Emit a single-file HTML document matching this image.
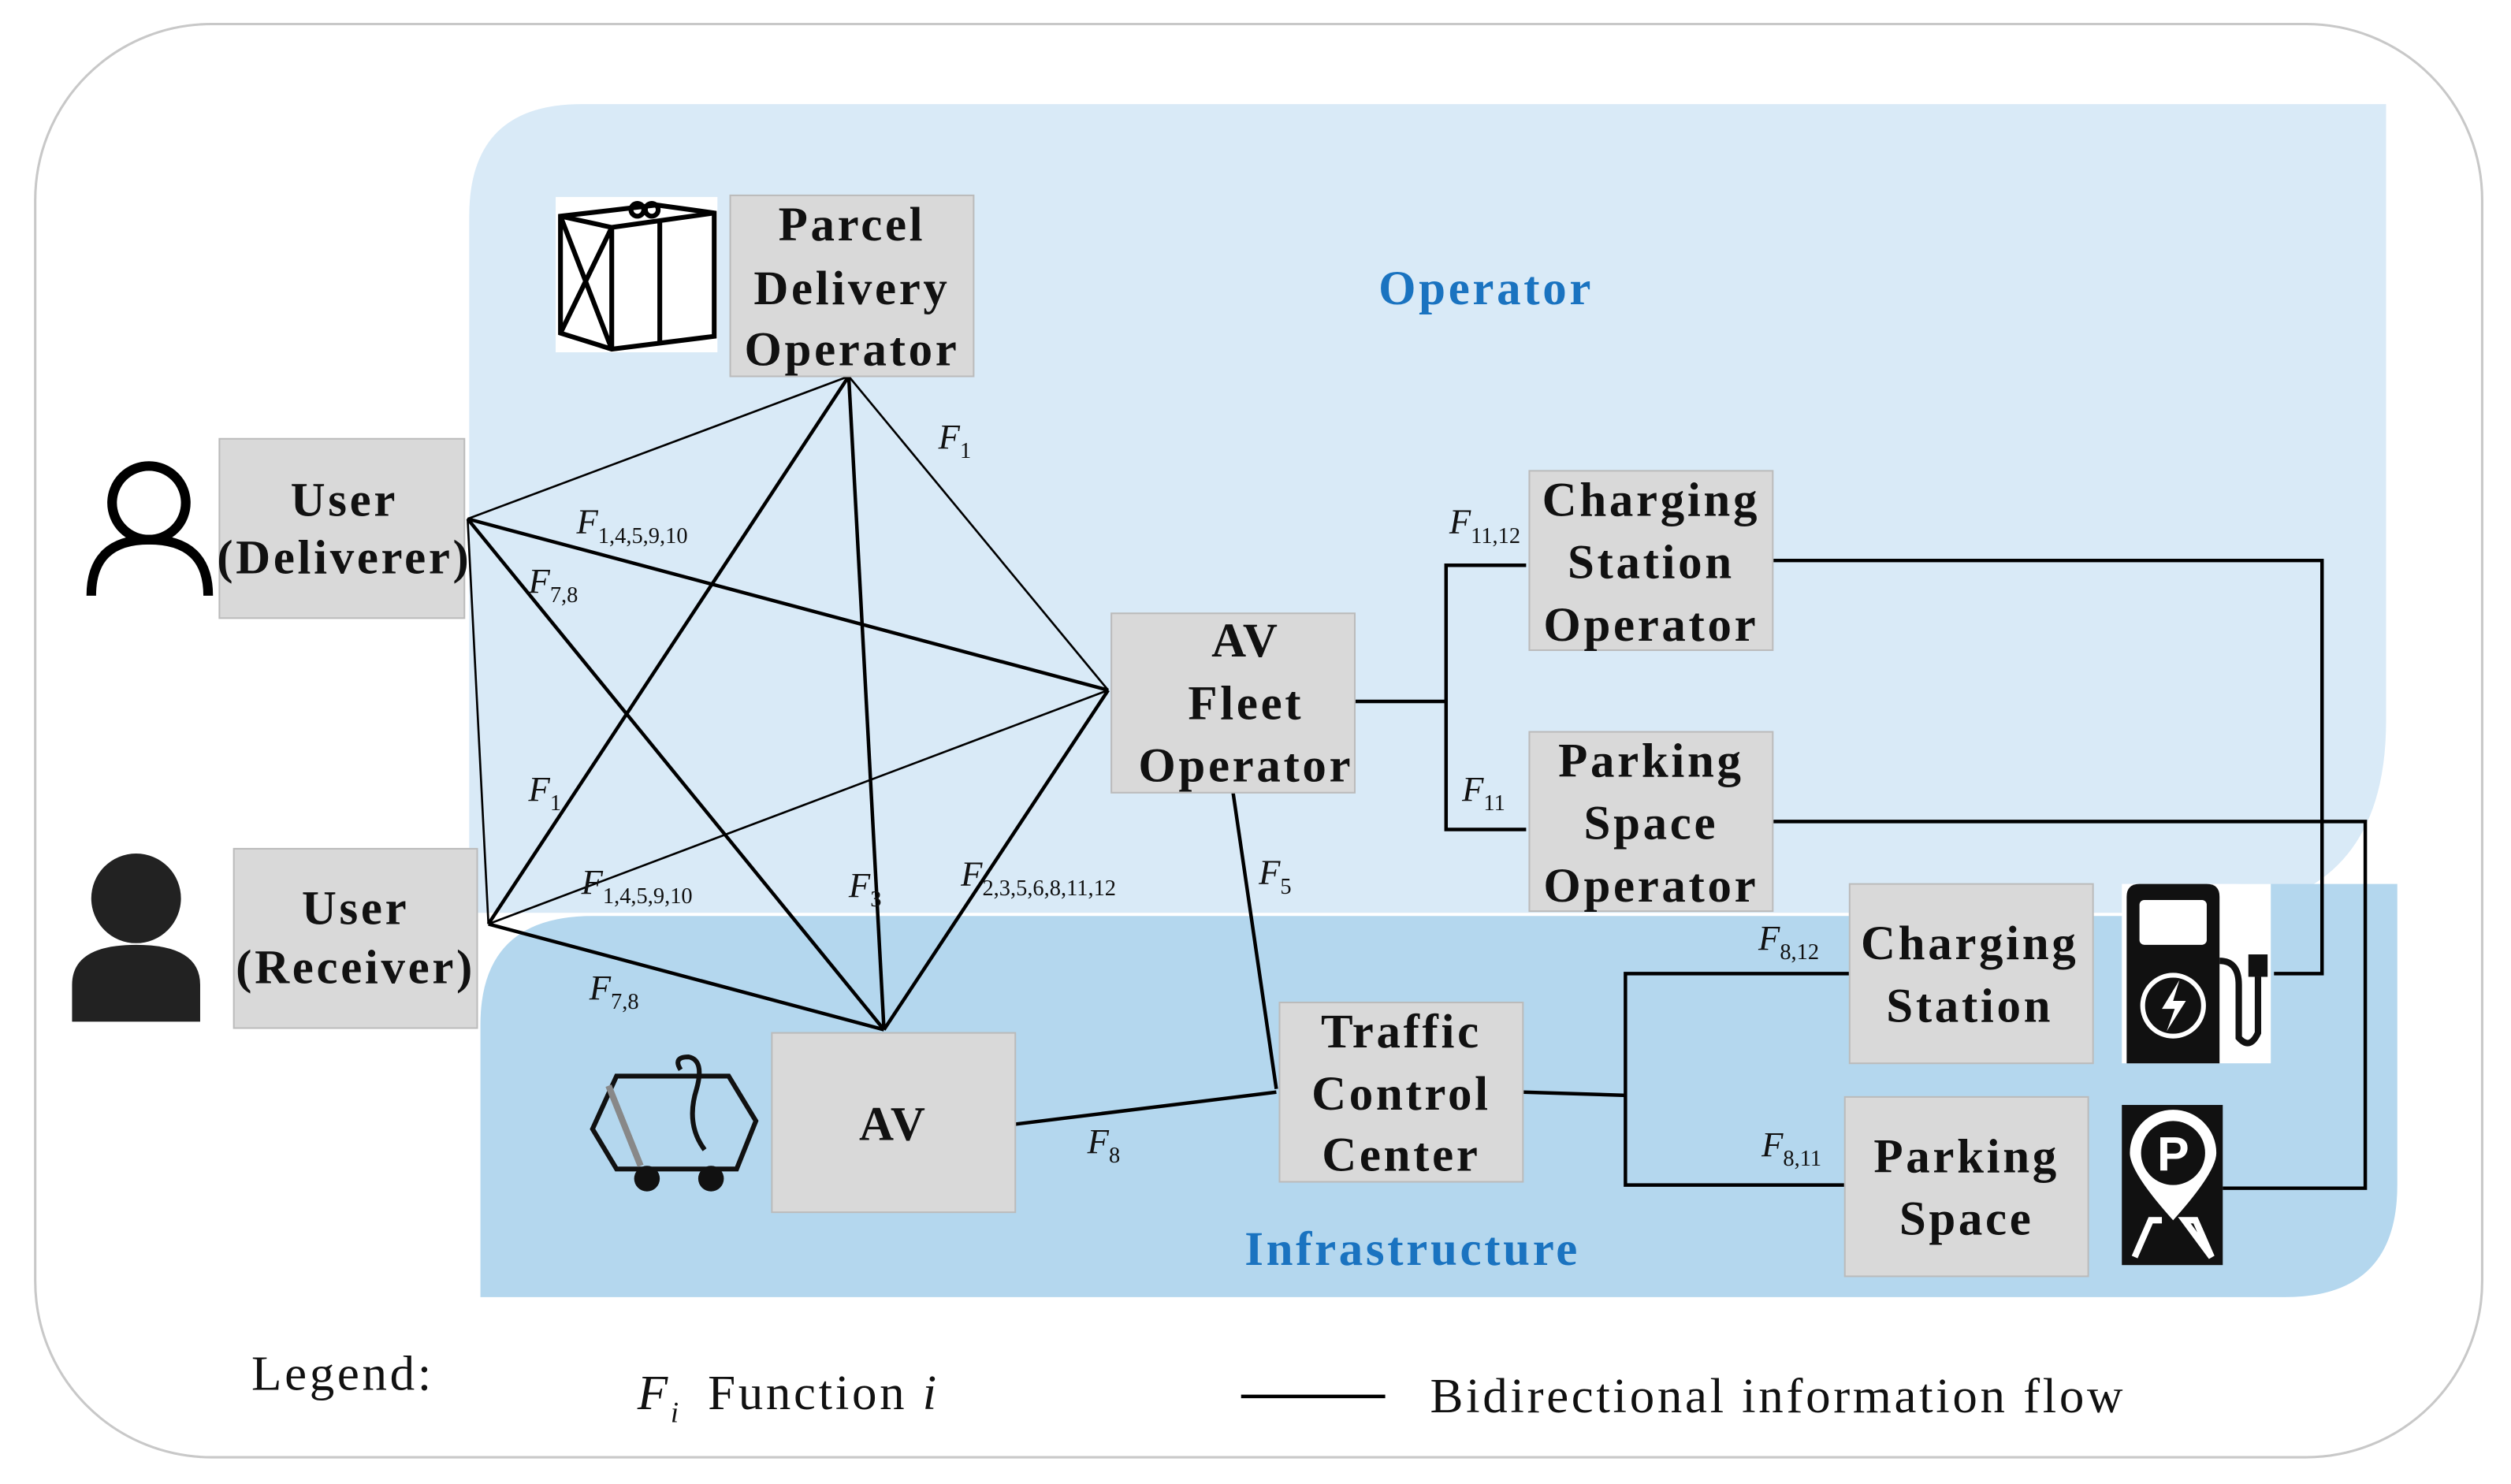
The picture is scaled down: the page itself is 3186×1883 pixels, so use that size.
<!DOCTYPE html>
<html><head><meta charset="utf-8"><style>
html,body{margin:0;padding:0;background:#fff}
svg{display:block}
.b{font-family:"Liberation Serif",serif;font-weight:bold;font-size:30px;fill:#111;text-anchor:middle;letter-spacing:1.8px}
.f{font-family:"Liberation Serif",serif;font-style:italic;font-size:22px;fill:#111}
.s{font-size:14px;font-style:normal}
.l{font-family:"Liberation Serif",serif;font-size:31px;fill:#111;letter-spacing:1.8px}
</style></head><body>
<svg width="3186" height="1883" viewBox="0 0 1568 926.7" xmlns="http://www.w3.org/2000/svg">
<rect x="22" y="15" width="1528" height="895" rx="110" fill="#fff" stroke="#c8c8c8" stroke-width="1.5"/>
<path d="M363 65 H1490 V450 Q1490 570 1370 570 H293 V135 Q293 65 363 65 Z" fill="#d9eaf7"/>
<path d="M300 640 Q300 572 370 572 H1360 Q1380 552 1400 552 H1497 V740 Q1497 810 1427 810 H300 Z" fill="#b4d7ee"/>
<g stroke="#000" fill="none">
<g stroke-width="1.3">
<line x1="292" y1="324" x2="530" y2="235"/>
<line x1="292" y1="324" x2="305" y2="577"/>
<line x1="530" y1="235" x2="692" y2="431"/>
<line x1="305" y1="577" x2="692" y2="431"/>
</g>
<g stroke-width="2.2">
<line x1="292" y1="324" x2="692" y2="431"/>
<line x1="292" y1="324" x2="552" y2="643"/>
<line x1="305" y1="577" x2="530" y2="235"/>
<line x1="305" y1="577" x2="552" y2="643"/>
<line x1="530" y1="235" x2="552" y2="643"/>
<line x1="692" y1="431" x2="552" y2="643"/>
<line x1="770" y1="495" x2="797" y2="680"/>
<polyline points="634,702 797,682"/>
<polyline points="846,438 903,438"/>
<polyline points="953,353 903,353 903,518 953,518"/>
<polyline points="1107,350 1450,350 1450,608 1420,608"/>
<polyline points="1107,513 1477,513 1477,742 1388,742"/>
<polyline points="951,682 1015,684"/>
<polyline points="1155,608 1015,608 1015,740 1152,740"/>
<line x1="775" y1="872" x2="865" y2="872"/>
</g>
</g>
<g fill="#d9d9d9" stroke="#bbb" stroke-width="1">
<rect x="456" y="122" width="152" height="113"/>
<rect x="137" y="274" width="153" height="112"/>
<rect x="146" y="530" width="152" height="112"/>
<rect x="694" y="383" width="152" height="112"/>
<rect x="955" y="294" width="152" height="112"/>
<rect x="955" y="457" width="152" height="112"/>
<rect x="799" y="626" width="152" height="112"/>
<rect x="482" y="645" width="152" height="112"/>
<rect x="1155" y="552" width="152" height="112"/>
<rect x="1152" y="685" width="152" height="112"/>
</g>
<text class="b"><tspan x="532" y="150">Parcel</tspan><tspan x="532" y="190">Delivery</tspan><tspan x="532" y="228">Operator</tspan></text>
<text class="b"><tspan x="215" y="322">User</tspan><tspan x="215" y="358">(Deliverer)</tspan></text>
<text class="b"><tspan x="222" y="577">User</tspan><tspan x="222" y="614">(Receiver)</tspan></text>
<text class="b"><tspan x="778" y="410">AV</tspan><tspan x="778" y="449">Fleet</tspan><tspan x="778" y="488">Operator</tspan></text>
<text class="b"><tspan x="1031" y="322">Charging</tspan><tspan x="1031" y="361">Station</tspan><tspan x="1031" y="400">Operator</tspan></text>
<text class="b"><tspan x="1031" y="485">Parking</tspan><tspan x="1031" y="524">Space</tspan><tspan x="1031" y="563">Operator</tspan></text>
<text class="b"><tspan x="875" y="654">Traffic</tspan><tspan x="875" y="693">Control</tspan><tspan x="875" y="731">Center</tspan></text>
<text class="b" x="558" y="712">AV</text>
<text class="b"><tspan x="1230" y="599">Charging</tspan><tspan x="1230" y="638">Station</tspan></text>
<text class="b"><tspan x="1228" y="732">Parking</tspan><tspan x="1228" y="771">Space</tspan></text>
<text class="b" x="928" y="190" style="fill:#1a73c0">Operator</text>
<text class="b" x="882" y="790" style="fill:#1a73c0">Infrastructure</text>
<text class="f" x="586" y="280">F<tspan class="s" dy="6">1</tspan></text>
<text class="f" x="360" y="333">F<tspan class="s" dy="6">1,4,5,9,10</tspan></text>
<text class="f" x="330" y="370">F<tspan class="s" dy="6">7,8</tspan></text>
<text class="f" x="330" y="500">F<tspan class="s" dy="6">1</tspan></text>
<text class="f" x="363" y="558">F<tspan class="s" dy="6">1,4,5,9,10</tspan></text>
<text class="f" x="368" y="624">F<tspan class="s" dy="6">7,8</tspan></text>
<text class="f" x="530" y="560">F<tspan class="s" dy="6">3</tspan></text>
<text class="f" x="600" y="553">F<tspan class="s" dy="6">2,3,5,6,8,11,12</tspan></text>
<text class="f" x="786" y="552">F<tspan class="s" dy="6">5</tspan></text>
<text class="f" x="679" y="720">F<tspan class="s" dy="6">8</tspan></text>
<text class="f" x="905" y="333">F<tspan class="s" dy="6">11,12</tspan></text>
<text class="f" x="913" y="500">F<tspan class="s" dy="6">11</tspan></text>
<text class="f" x="1098" y="593">F<tspan class="s" dy="6">8,12</tspan></text>
<text class="f" x="1100" y="722">F<tspan class="s" dy="6">8,11</tspan></text>
<text class="l" x="157" y="868">Legend:</text>
<text class="l" x="398" y="880" style="font-style:italic">F<tspan class="s" dy="8" style="font-size:18px;font-style:italic">i</tspan></text>
<text class="l" x="442" y="880">Function <tspan style="font-style:italic">i</tspan></text>
<text class="l" x="893" y="882">Bidirectional information flow</text>
<!-- parcel icon -->
<rect x="347" y="123" width="101" height="97" fill="#fff"/>
<g stroke="#000" stroke-width="3" fill="none">
<path d="M350 135 L410 128 L446 133 L446 210 L382 218 L350 208 Z"/>
<path d="M350 135 L382 142 L446 133 M382 142 L382 218 M350 135 L382 218 M382 142 L350 208 M412 138 L412 214"/>
<circle cx="398" cy="131" r="4"/><circle cx="407" cy="131" r="4"/>
</g>
<!-- person outline -->
<g stroke="#000" stroke-width="6" fill="none">
<circle cx="93" cy="314" r="23"/>
<path d="M57 372 Q57 337 93 337 Q130 337 130 372"/>
</g>
<!-- person filled -->
<circle cx="85" cy="561" r="28" fill="#222"/>
<path d="M45 638 L45 615 Q45 590 85 590 Q125 590 125 615 L125 638 Z" fill="#222"/>
<!-- AV icon -->
<g stroke="#111" stroke-width="3" fill="none">
<path d="M385 672 L455 672 L472 700 L460 730 L385 730 L370 705 Z"/>
<path d="M425 668 Q420 660 430 660 Q440 662 435 680 Q428 702 440 718"/>
</g>
<line x1="380" y1="678" x2="400" y2="728" stroke="#888" stroke-width="4"/>
<circle cx="404" cy="736" r="8" fill="#111"/><circle cx="444" cy="736" r="8" fill="#111"/>
<!-- charging icon -->
<rect x="1325" y="552" width="93" height="112" fill="#fff"/>
<path d="M1328 560 Q1328 552 1336 552 L1378 552 Q1386 552 1386 560 L1386 664 L1328 664 Z" fill="#111"/>
<rect x="1336" y="562" width="42" height="28" rx="3" fill="#fff"/>
<circle cx="1357" cy="628" r="19" fill="none" stroke="#fff" stroke-width="3"/>
<path d="M1361 612 L1350 630 L1358 630 L1353 644 L1365 625 L1357 625 Z" fill="#fff"/>
<path d="M1386 600 Q1398 600 1398 615 L1398 648 Q1405 656 1410 645 L1410 610" stroke="#111" stroke-width="4" fill="none"/>
<rect x="1404" y="596" width="12" height="14" fill="#111"/>
<!-- parking icon -->
<rect x="1325" y="690" width="63" height="100" fill="#111"/>
<path d="M1357 762 Q1330 732 1330 720 A27 27 0 1 1 1384 720 Q1384 732 1357 762 Z" fill="#fff"/>
<circle cx="1357" cy="720" r="20" fill="#111"/>
<text x="1357" y="731" text-anchor="middle" style="font-family:'Liberation Sans',sans-serif;font-weight:bold;font-size:30px;fill:#fff">P</text>
<path d="M1333 785 L1343 762 L1350 762 M1364 762 L1371 762 L1381 785 Z" stroke="#fff" stroke-width="4" fill="none"/>
</svg>
</body></html>
